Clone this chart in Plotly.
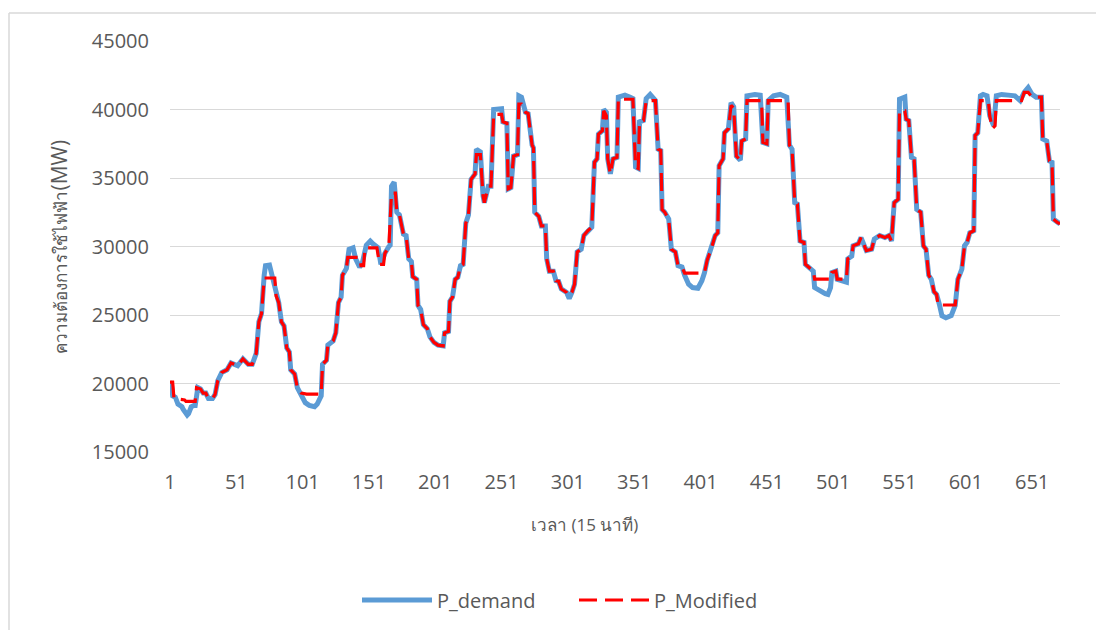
import plotly.graph_objects as go

# ---- data (index of 15-min interval, MW) ----
demand_x = [1, 2, 3, 5, 7, 10, 11, 13, 14, 15, 17, 19, 20, 22, 24, 26, 28, 30, 33, 35, 37, 40, 44, 47, 52,
            56, 60, 63, 66, 68, 70, 72, 73, 76, 78, 81, 83, 85, 87, 89, 91, 92, 95, 97, 100, 103, 106, 110,
            112, 115, 116, 119, 120, 124, 126, 128, 130, 131, 134, 136, 139, 141, 144, 146, 149, 152, 154,
            158, 160, 163, 166, 167, 168, 170, 172, 174, 177, 179, 181, 183, 184, 187, 188, 190, 192, 195,
            197, 200, 203, 207, 208, 211, 212, 214, 216, 218, 220, 222, 224, 226, 228, 231, 232, 235, 237,
            238, 241, 243, 245, 251, 252, 255, 256, 258, 260, 263, 264, 266, 269, 271, 274, 275, 276, 279,
            281, 284, 285, 287, 290, 292, 294, 296, 300, 302, 304, 306, 308, 311, 313, 316, 319, 321, 323,
            324, 327, 328, 330, 331, 333, 335, 338, 339, 344, 348, 350, 352, 354, 355, 358, 360, 363, 367,
            369, 371, 372, 374, 377, 379, 382, 384, 387, 389, 392, 395, 399, 402, 404, 406, 409, 412, 414,
            415, 418, 419, 422, 424, 426, 428, 431, 432, 435, 436, 442, 446, 448, 451, 452, 456, 461, 466,
            468, 470, 472, 474, 476, 479, 480, 484, 486, 487, 491, 495, 497, 499, 500, 503, 504, 509, 511,
            512, 515, 516, 520, 522, 524, 526, 530, 532, 536, 540, 543, 545, 547, 550, 551, 555, 556, 558,
            560, 562, 564, 567, 569, 571, 573, 575, 577, 579, 581, 583, 586, 590, 593, 595, 598, 600, 602,
            604, 607, 608, 610, 612, 614, 617, 619, 622, 624, 628, 633, 638, 642, 645, 648, 651, 654, 658,
            659, 662, 664, 666, 667, 670, 672]
demand_y = [20100, 20000, 19100, 19000, 18500, 18300, 18100, 17900, 17700, 17800, 18300, 18400, 18400,
            19700, 19600, 19300, 19300, 18900, 18900, 19200, 20200, 20800, 21000, 21500, 21300, 21800,
            21400, 21400, 22200, 24500, 25100, 27900, 28600, 28650, 27800, 26400, 25900, 24500, 24200,
            22600, 22300, 21000, 20700, 19700, 19100, 18600, 18400, 18300, 18500, 19100, 21400, 21700,
            22800, 23100, 23700, 25900, 26300, 27900, 28400, 29800, 29900, 29100, 28500, 28800, 30100,
            30400, 30200, 29900, 28700, 29500, 30000, 30100, 34400, 34700, 32500, 32300, 30900, 30800,
            29100, 28900, 27800, 27600, 25700, 25400, 24300, 24000, 23400, 23000, 22800, 22750, 23700,
            23800, 26000, 26300, 27600, 27750, 28600, 28700, 31700, 32300, 34900, 35300, 37100, 36900,
            33700, 33200, 34400, 34400, 40000, 40050, 39100, 39000, 34200, 34300, 36600, 36700, 41000,
            40900, 39800, 39700, 37400, 37200, 32500, 32200, 31500, 31500, 29100, 28200, 28200, 27500,
            27450, 26900, 26650, 26200, 26650, 27250, 29600, 29800, 30800, 31150, 31400, 36150, 36400,
            38200, 38450, 40000, 39800, 36400, 35300, 36400, 36500, 40900, 41050, 40900, 40800, 35800,
            35700, 39100, 39200, 40800, 41100, 40650, 37100, 37000, 32700, 32500, 32000, 29800, 29600,
            28600, 28500, 27900, 27250, 27000, 26950, 27500, 28100, 29000, 29800, 30800, 31000, 35900,
            36400, 38300, 38600, 40500, 40200, 36600, 36300, 37700, 37850, 41000, 41100, 41050, 37600,
            37500, 40650, 41000, 41100, 40900, 37400, 37100, 33200, 33100, 30400, 30300, 28700, 28350,
            28200, 27000, 26750, 26550, 26500, 27000, 28100, 28200, 27600, 27400, 27400, 29100, 29300,
            30050, 30200, 30650, 30200, 29700, 29800, 30550, 30800, 30650, 30800, 30400, 33200, 33450,
            40750, 40900, 39300, 39200, 36500, 36400, 32700, 32500, 30050, 29800, 27900, 27600, 26700,
            26500, 25800, 24950, 24800, 24950, 25700, 27600, 28350, 30050, 30300, 31000, 31150, 38100,
            38300, 41000, 41100, 41000, 39550, 38800, 41000, 41100, 41050, 41000, 40650, 41250, 41600,
            41100, 40900, 40900, 37850, 37700, 36250, 36150, 32000, 31750, 31650]

modified_x = [1, 3, 4, 12, 13, 20, 21, 24, 26, 28, 30, 33, 35, 37, 40, 44, 47, 52, 56, 60, 63, 66, 68, 70,
              72, 80, 81, 83, 85, 87, 89, 91, 92, 95, 97, 100, 104, 115, 116, 119, 120, 124, 126, 128, 130,
              131, 134, 135, 144, 145, 147, 148, 157, 159, 162, 163, 166, 168, 171, 172, 174, 177, 179, 181,
              183, 184, 187, 188, 190, 192, 195, 197, 200, 203, 207, 208, 211, 212, 214, 216, 218, 220, 222,
              224, 226, 228, 231, 232, 235, 237, 238, 241, 243, 245, 251, 252, 255, 256, 258, 260, 263, 264,
              266, 269, 271, 274, 275, 276, 279, 281, 284, 285, 287, 290, 292, 294, 296, 300, 302, 304, 306,
              308, 311, 313, 316, 319, 321, 323, 324, 327, 328, 330, 331, 333, 335, 338, 339, 350, 352, 354,
              355, 358, 360, 367, 369, 371, 372, 374, 377, 379, 382, 384, 387, 389, 402, 404, 406, 409, 412,
              414, 415, 418, 419, 422, 424, 426, 428, 431, 432, 435, 436, 447, 448, 451, 452, 467, 468, 470,
              472, 474, 476, 479, 480, 484, 486, 487, 499, 500, 503, 504, 511, 512, 515, 516, 520, 522, 524,
              526, 530, 532, 536, 540, 543, 545, 547, 550, 551, 555, 556, 558, 560, 562, 564, 567, 569, 571,
              573, 575, 577, 579, 580, 593, 595, 598, 600, 602, 604, 607, 608, 610, 612, 618, 619, 621, 623,
              624, 643, 645, 648, 651, 658, 659, 662, 664, 666, 667, 670, 672]
modified_y = [20100, 20100, 18900, 18800, 18700, 18700, 19700, 19600, 19300, 19300, 18900, 18900, 19200,
              20200, 20800, 21000, 21500, 21300, 21800, 21400, 21400, 22200, 24500, 25100, 27700, 27700,
              26400, 25900, 24500, 24200, 22600, 22300, 21000, 20700, 19700, 19300, 19230, 19230, 21400,
              21700, 22800, 23100, 23700, 25900, 26300, 27900, 28400, 29200, 29200, 28600, 28600, 29900,
              29900, 28700, 28700, 29500, 30000, 33900, 33900, 32500, 32300, 30900, 30800, 29100, 28900,
              27800, 27600, 25700, 25400, 24300, 24000, 23400, 23000, 22800, 22750, 23700, 23800, 26000,
              26300, 27600, 27750, 28600, 28700, 31700, 32300, 34900, 35300, 36700, 36700, 33700, 33200,
              34400, 34400, 39650, 39650, 39100, 39000, 34200, 34300, 36600, 36700, 40400, 40400, 39800,
              39700, 37400, 37200, 32500, 32200, 31500, 31500, 29100, 28200, 28200, 27500, 27450, 26900,
              26650, 26400, 26650, 27250, 29600, 29800, 30800, 31150, 31400, 36150, 36400, 38200, 38450,
              39900, 39550, 36400, 35300, 36400, 36500, 40750, 40750, 35800, 35700, 39100, 39200, 40650,
              40650, 37100, 37000, 32700, 32500, 32000, 29800, 29600, 28600, 28500, 28050, 28050, 28100,
              29000, 29800, 30800, 31000, 35900, 36400, 38300, 38600, 40300, 40100, 36600, 36300, 37700,
              37850, 40650, 40650, 37600, 37500, 40650, 40650, 37400, 37100, 33200, 33100, 30400, 30300,
              28700, 28350, 28200, 27620, 27620, 28100, 28200, 27620, 27620, 29100, 29300, 30050, 30200,
              30650, 30200, 29700, 29800, 30550, 30800, 30650, 30800, 30400, 33200, 33450, 39900, 39900,
              39300, 39200, 36500, 36400, 32700, 32500, 30050, 29800, 27900, 27600, 26700, 26500, 25730,
              25730, 27600, 28350, 30050, 30300, 31000, 31150, 38100, 38300, 40650, 40650, 39550, 38600,
              38800, 40650, 40650, 41250, 41250, 40900, 40900, 37850, 37700, 36250, 36150, 32000, 31750,
              31650]

x_tick_labels = [1, 51, 101, 151, 201, 251, 301, 351, 401, 451, 501, 551, 601, 651]
y_ticks = [15000, 20000, 25000, 30000, 35000, 40000, 45000]

FONT = "Open Sans, Noto Sans, sans-serif"
GREY = "#595959"

fig = go.Figure()
fig.add_trace(go.Scatter(x=demand_x, y=demand_y, mode="lines", name="P_demand",
                         line=dict(color="#5B9BD5", width=5)))
fig.add_trace(go.Scatter(x=modified_x, y=modified_y, mode="lines", name="P_Modified",
                         line=dict(color="#FF0000", width=3.2, dash="18px,8px")))

L, R, T, B = 170, 36, 41, 177
W, H = 1096, 630
pw, ph = W - L - R, H - T - B

def px(x):
    return (x - L) / pw

def py(y):
    return (H - B - y) / ph

fig.update_layout(
    width=W, height=H,
    margin=dict(l=L, r=R, t=T, b=B),
    paper_bgcolor="white", plot_bgcolor="white",
    font=dict(family=FONT, color=GREY, size=20),
    showlegend=True,
    legend=dict(orientation="h", x=px(357), y=py(600), xanchor="left", yanchor="middle",
                font=dict(size=20, color=GREY, family=FONT), itemwidth=70,
                entrywidth=132, entrywidthmode="pixels",
                bgcolor="rgba(0,0,0,0)", traceorder="normal"),
    xaxis=dict(range=[1, 672], tickmode="array", tickvals=x_tick_labels,
               ticktext=[str(v) for v in x_tick_labels], showgrid=False, zeroline=False,
               showline=False, ticks="", tickfont=dict(size=20, color=GREY, family=FONT),
               ticklabelstandoff=16),
    yaxis=dict(range=[15000, 45000], tickmode="array", tickvals=y_ticks,
               ticktext=[str(v) for v in y_ticks], showgrid=True, gridcolor="#D9D9D9",
               gridwidth=1, zeroline=False, showline=False, ticks="",
               tickfont=dict(size=20, color=GREY, family=FONT), ticklabelstandoff=20),
    annotations=[
        dict(text="เวลา (15 นาที)", x=px(584), y=py(526), xref="paper", yref="paper",
             xanchor="center", yanchor="middle",
             showarrow=False, font=dict(size=17, color=GREY, family=FONT)),
        dict(text="ความต้องการใช้ไฟฟ้า<span style='font-size:21px'>(MW)</span>",
             x=px(58), y=py(247), xref="paper", yref="paper", textangle=-90,
             xanchor="center", yanchor="middle",
             showarrow=False, font=dict(size=17, color=GREY, family=FONT)),
    ],
    shapes=[
        dict(type="line", xref="paper", yref="paper", x0=px(9), x1=px(1100), y0=py(13), y1=py(13),
             line=dict(color="#D9D9D9", width=1.5)),
        dict(type="line", xref="paper", yref="paper", x0=px(9), x1=px(9), y0=py(13), y1=py(640),
             line=dict(color="#D9D9D9", width=1.5)),
    ],
)

fig.write_html("out.html")
